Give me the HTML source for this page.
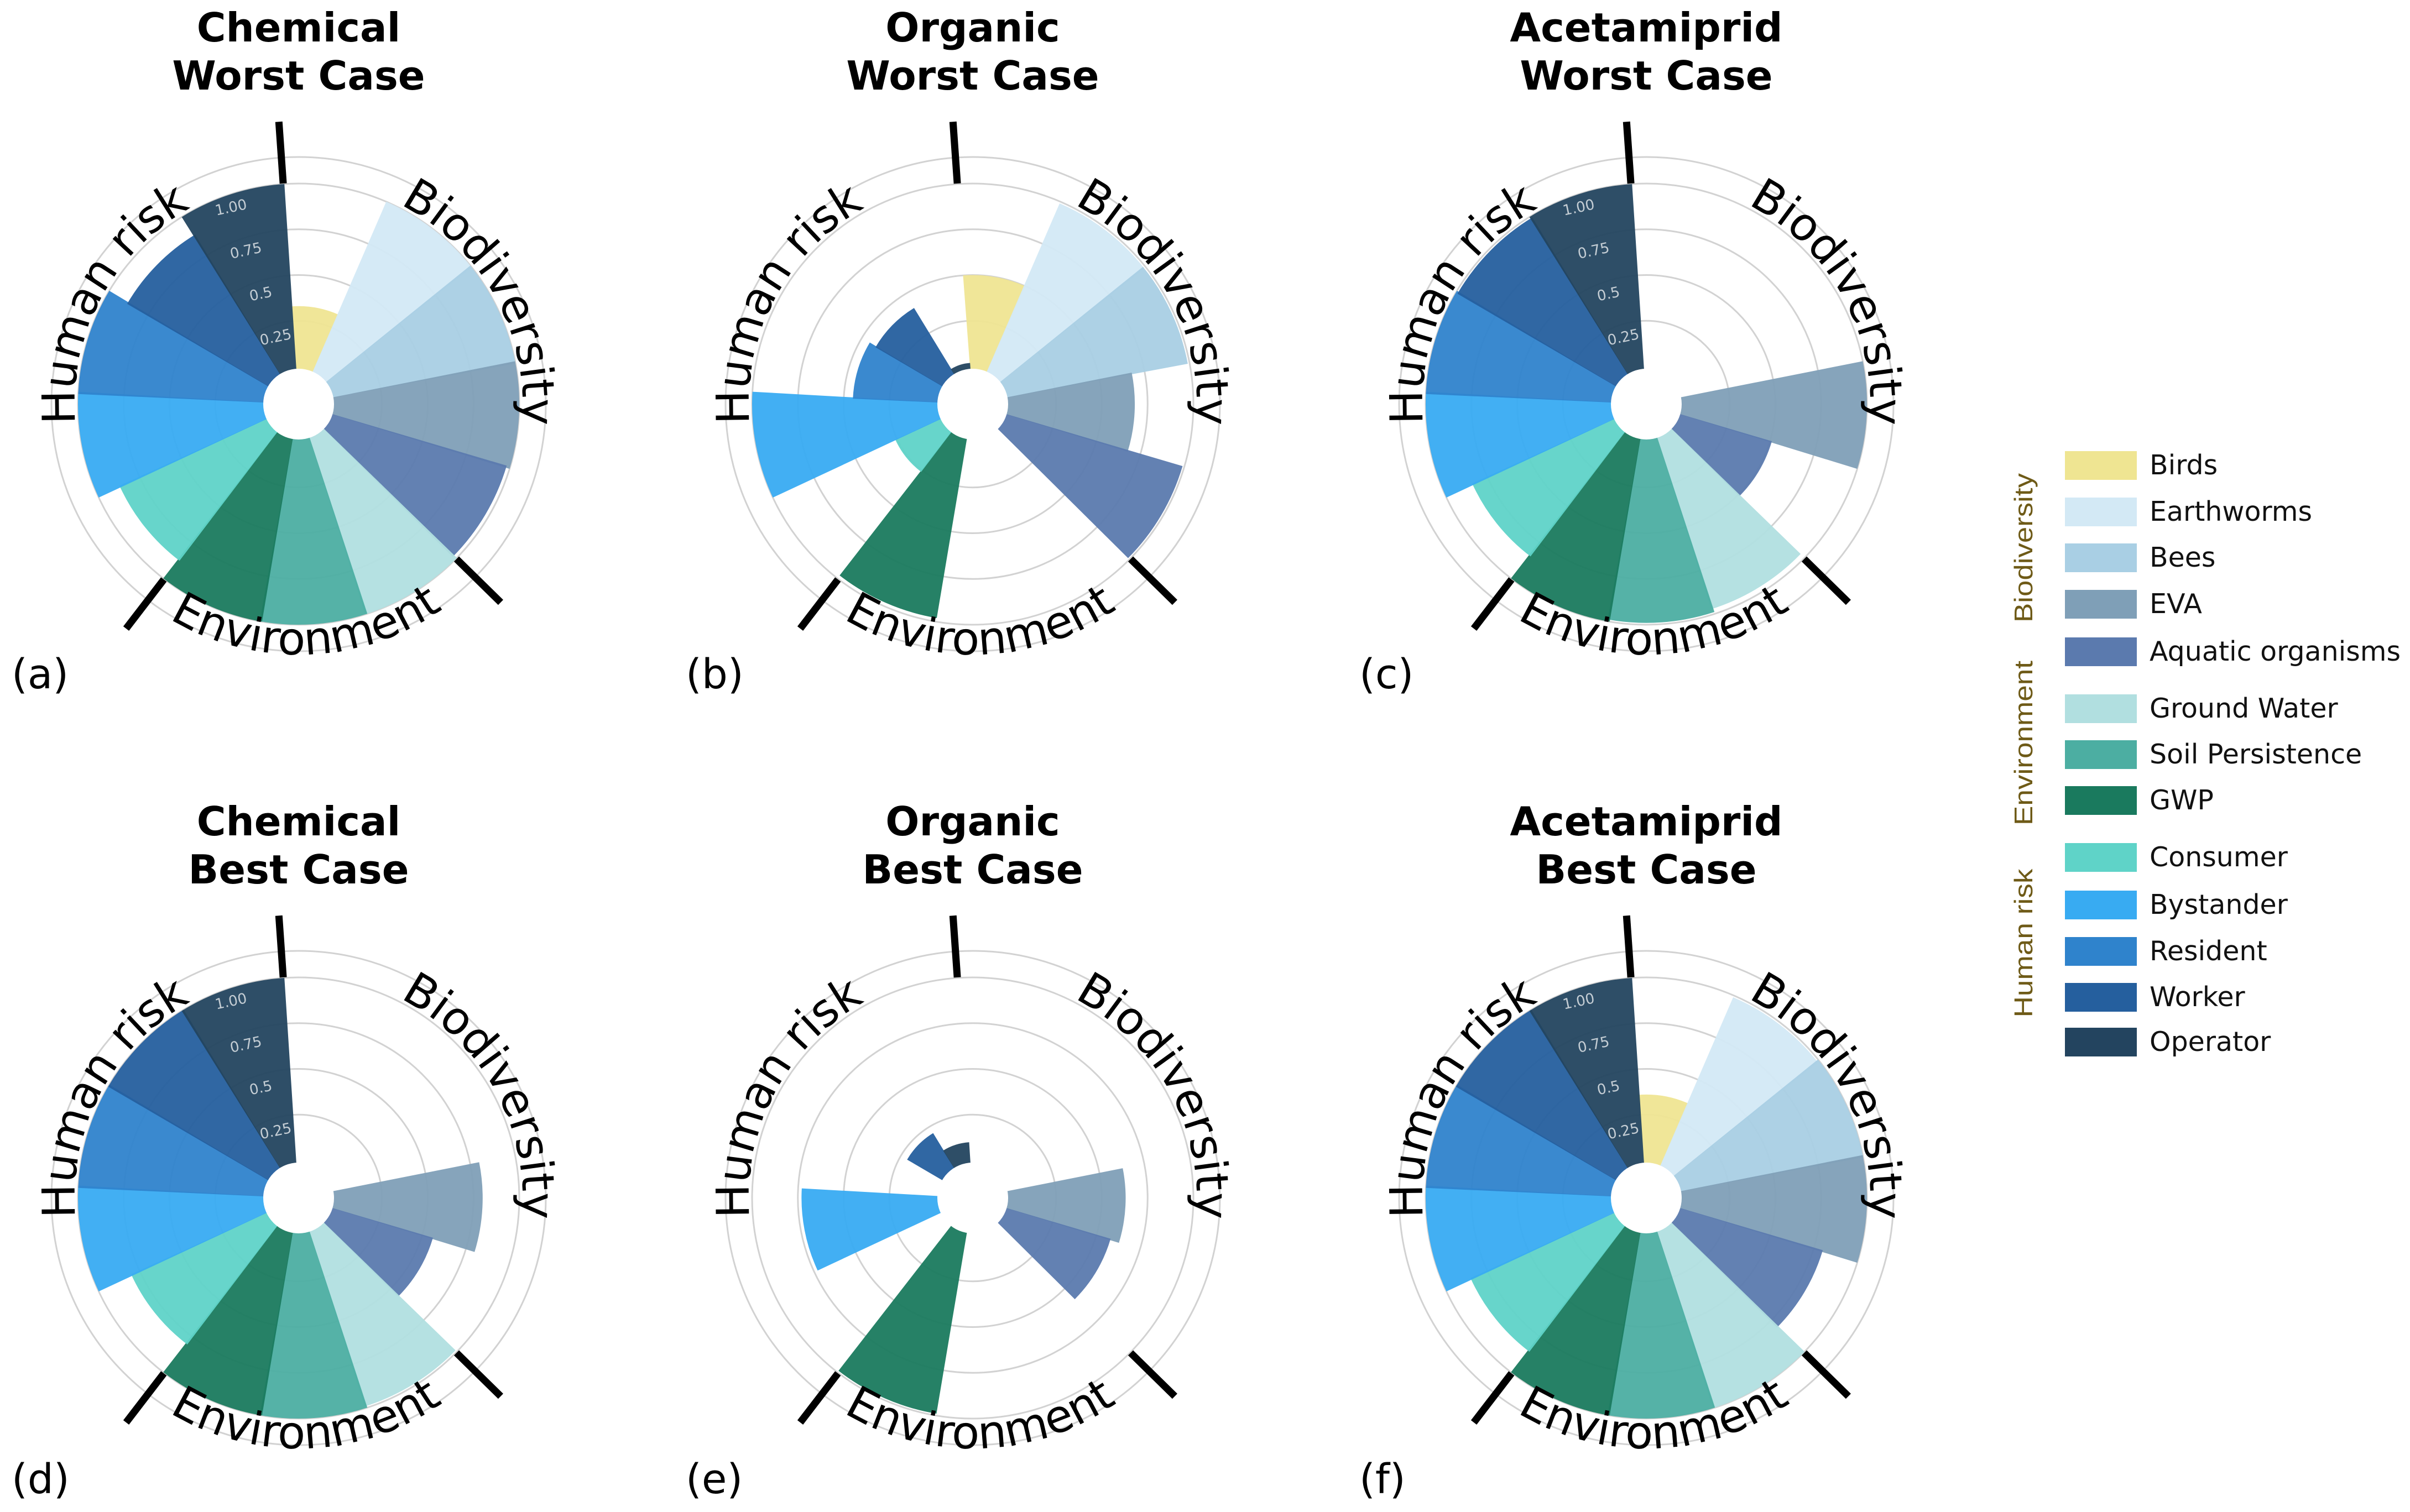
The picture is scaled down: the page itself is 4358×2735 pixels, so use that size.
<!DOCTYPE html>
<html><head><meta charset="utf-8">
<style>
html,body{margin:0;padding:0;background:#fff;}
svg{display:block;}
</style></head>
<body>
<svg id="fig" xmlns="http://www.w3.org/2000/svg" width="4358" height="2735" viewBox="0 0 4358 2735"></svg>
<script>
// ---- data ----
const categories = ["Birds","Earthworms","Bees","EVA","Aquatic organisms","Ground Water","Soil Persistence","GWP","Consumer","Bystander","Resident","Worker","Operator"];
const groupNames = ["Biodiversity","Environment","Human risk"];
const groupStarts = [0,5,8];
const panelTitlesTop = ["Chemical","Organic","Acetamiprid","Chemical","Organic","Acetamiprid"];
const panelTitlesBottom = ["Worst Case","Worst Case","Worst Case","Best Case","Best Case","Best Case"];
const panelLetters = ["(a)","(b)","(c)","(d)","(e)","(f)"];
const valuesA = [0.33,1.00,1.00,1.00,0.98,1.00,1.00,1.00,0.87,1.00,1.00,0.88,1.00];
const valuesB = [0.50,0.99,0.99,0.68,0.99,0.00,0.00,0.98,0.26,1.00,0.45,0.41,0.02];
const valuesC = [0.00,0.00,0.00,1.00,0.51,0.97,0.99,1.00,0.84,1.00,1.00,0.99,1.00];
const valuesD = [0.00,0.00,0.00,0.80,0.56,0.99,1.00,1.00,0.80,1.00,1.00,1.00,1.00];
const valuesE = [0.00,0.00,0.00,0.63,0.58,0.00,0.00,0.99,0.00,0.73,0.00,0.21,0.10];
const valuesF = [0.36,0.99,1.00,1.00,0.80,1.00,1.00,1.00,0.85,1.00,1.00,1.00,1.00];
const tickValues = [0.25,0.5,0.75,1.0];
const tickLabels = ["0.25","0.5","0.75","1.00"];

// ---- style ----
const colors = ["#efe592","#d3e9f5","#a9cfe4","#7f9fb7","#5b7aae","#b1dfe0","#4caea2","#1a7a5e","#5fd3c8","#38abf2","#2f83cc","#255f9e","#23445f"];
const allValues = [valuesA,valuesB,valuesC,valuesD,valuesE,valuesF];
const centersX = [540,1759,2977];
const centersY = [731,2167];
const NS = "http://www.w3.org/2000/svg";
const svg = document.getElementById('fig');
const R0 = 68, RS = 331, HOLE = 64, ROT = -4;
const N = categories.length, SW = 360 / N;
const rScale = v => R0 + RS * v;
function pt(cx, cy, a, r){ const t = a*Math.PI/180; return [cx + r*Math.sin(t), cy - r*Math.cos(t)]; }
function mk(tag, attrs, parent){ const e = document.createElementNS(NS, tag); for (const k in attrs) e.setAttribute(k, attrs[k]); (parent||svg).appendChild(e); return e; }

allValues.forEach((vals, p) => {
  const cx = centersX[p % 3], cy = centersY[Math.floor(p / 3)];
  const g = mk('g', {});
  
  
  tickValues.concat([1.145]).forEach(v => {
    const c = mk('circle', {cx:cx, cy:cy, r:rScale(v), fill:'none', stroke:'#d2d2d2', 'stroke-width':3}, g);
    
    
  });
  vals.forEach((v, i) => {
    if (v <= 0) return;
    const a0 = ROT + i*SW - 0.3, a1 = ROT + (i+1)*SW + 0.3, ro = rScale(v), ri = HOLE - 2;
    const p0 = pt(cx,cy,a0,ri), p1 = pt(cx,cy,a0,ro), p2 = pt(cx,cy,a1,ro), p3 = pt(cx,cy,a1,ri);
    const d = `M${p0[0]},${p0[1]} L${p1[0]},${p1[1]} A${ro},${ro} 0 0 1 ${p2[0]},${p2[1]} L${p3[0]},${p3[1]} A${ri},${ri} 0 0 0 ${p0[0]},${p0[1]} Z`;
    const b = mk('path', {d:d, fill:colors[i], 'fill-opacity':0.95}, g);
    
    
  });
  const h = mk('circle', {cx:cx, cy:cy, r:HOLE, fill:'#fff'}, g);
  
  
  tickValues.forEach((v, k) => {
    const q = pt(cx, cy, -19, rScale(v) - 24);
    const t = mk('text', {x:q[0], y:q[1], 'font-family':'"DejaVu Sans", sans-serif', 'font-size':26, fill:'#ffffff', 'fill-opacity':0.72, 'text-anchor':'middle', 'dominant-baseline':'middle', transform:`rotate(-12 ${q[0]} ${q[1]})`}, g);
    t.textContent = tickLabels[k];
    
    
  });
  groupStarts.forEach(s => {
    const a = ROT + s*SW, q0 = pt(cx,cy,a,400), q1 = pt(cx,cy,a,512);
    const l = mk('line', {x1:q0[0], y1:q0[1], x2:q1[0], y2:q1[1], stroke:'#000', 'stroke-width':13}, g);
    
    
  });
  const rb = 405;
  const s0 = pt(cx,cy,180,rb), s1 = pt(cx,cy,0,rb);
  const cwId = 'cw' + p;
  mk('path', {id:cwId, d:`M${s0[0]},${s0[1]} A${rb},${rb} 0 0 1 ${s1[0]},${s1[1]} A${rb},${rb} 0 0 1 ${s0[0]},${s0[1]}`, fill:'none'}, g);
  [['Human risk',298],['Biodiversity',421]].forEach(([txt, ang]) => {
    const t = mk('text', {'font-family':'"DejaVu Sans", sans-serif', 'font-size':82, fill:'#000', 'text-anchor':'middle'}, g);
    const tp = mk('textPath', {href:'#'+cwId, startOffset:((ang-180)*Math.PI/180*rb).toFixed(1)}, t);
    tp.textContent = txt;
    
    
  });
  const re = 453;
  const e0 = pt(cx,cy,270,re), e1 = pt(cx,cy,90,re);
  const ccwId = 'ccw' + p;
  mk('path', {id:ccwId, d:`M${e0[0]},${e0[1]} A${re},${re} 0 0 0 ${e1[0]},${e1[1]}`, fill:'none'}, g);
  const te = mk('text', {'font-family':'"DejaVu Sans", sans-serif', 'font-size':82, fill:'#000', 'text-anchor':'middle'}, g);
  const tpe = mk('textPath', {href:'#'+ccwId, startOffset:((270-178)*Math.PI/180*re).toFixed(1)}, te);
  tpe.textContent = 'Environment';
  
  
  const ty = cy - 656;
  [[panelTitlesTop[p], ty],[panelTitlesBottom[p], ty + 87]].forEach(([txt, y]) => {
    const t = mk('text', {x:cx, y:y, 'font-family':'"DejaVu Sans", sans-serif', 'font-weight':'bold', 'font-size':72, fill:'#000', 'text-anchor':'middle'}, g);
    t.textContent = txt;
    
    
  });
  const pl = mk('text', {x:cx - 519, y:cy + 514 + (p >= 3 ? 20 : 0), 'font-family':'"DejaVu Sans", sans-serif', 'font-size':74, fill:'#000'}, g);
  pl.textContent = panelLetters[p];
  
  
});

// ---- legend ----
const legendY = [842,926,1009,1093,1179,1282,1365,1448,1551,1637,1721,1804,1885];
const lg = mk('g', {});


categories.forEach((c, i) => {
  const r = mk('rect', {x:3734, y:legendY[i]-26, width:130, height:52, fill:colors[i]}, lg);
  
  
  const t = mk('text', {x:3887, y:legendY[i]+16, 'font-family':'"DejaVu Sans", sans-serif', 'font-size':49, fill:'#111'}, lg);
  t.textContent = c;
  
  
});
const groupLabelY = [991,1344,1706];
const groupLabelLen = [270,298,269];
groupNames.forEach((n, i) => {
  const x = 3675, y = groupLabelY[i];
  const t = mk('text', {x:x, y:y, 'font-family':'"Liberation Sans", sans-serif', 'font-size':46, fill:'#6e5a17', 'text-anchor':'middle', textLength:groupLabelLen[i], lengthAdjust:'spacingAndGlyphs', transform:`rotate(-90 ${x} ${y})`}, lg);
  t.textContent = n;
  
  
});
</script>
</body></html>
